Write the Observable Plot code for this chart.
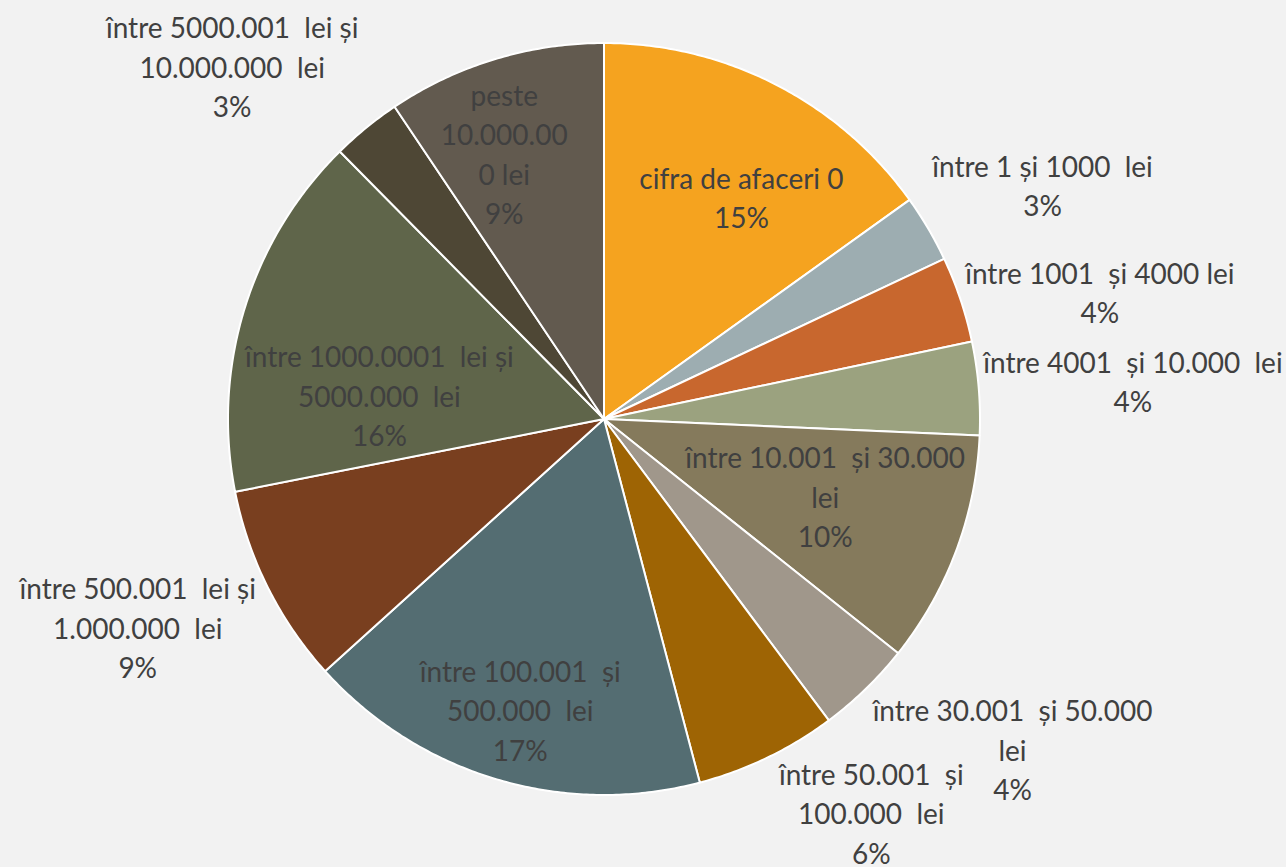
<!DOCTYPE html>
<html>
<head>
<meta charset="utf-8">
<script src="https://cdn.jsdelivr.net/npm/d3@7"></script>
<script src="https://cdn.jsdelivr.net/npm/@observablehq/plot@0.6"></script>
<style>
  html, body { margin: 0; padding: 0; background: #F2F2F2; }
  svg text { white-space: pre; }
</style>
</head>
<body>
<div id="chart"></div>
<script>
// ---- data ----
const categories = [
  "cifra de afaceri 0",
  "între 1 și 1000 lei",
  "între 1001 și 4000 lei",
  "între 4001 și 10.000 lei",
  "între 10.001 și 30.000 lei",
  "între 30.001 și 50.000 lei",
  "între 50.001 și 100.000 lei",
  "între 100.001 și 500.000 lei",
  "între 500.001 lei și 1.000.000 lei",
  "între 1000.0001 lei și 5000.000 lei",
  "între 5000.001 lei și 10.000.000 lei",
  "peste 10.000.000 lei"
];
const values = [15.1, 2.9, 3.7, 4.0, 10.0, 4.1, 6.1, 17.4, 8.6, 15.7, 3.0, 9.4];
// label text as wrapped in the original chart
const labelText = [
  "cifra de afaceri 0",
  "între 1 și 1000  lei",
  "între 1001  și 4000 lei",
  "între 4001  și 10.000  lei",
  "între 10.001  și 30.000\nlei",
  "între 30.001  și 50.000\nlei",
  "între 50.001  și\n100.000  lei",
  "între 100.001  și\n500.000  lei",
  "între 500.001  lei și\n1.000.000  lei",
  "între 1000.0001  lei și\n5000.000  lei",
  "între 5000.001  lei și\n10.000.000  lei",
  "peste\n10.000.00\n0 lei"
];
const colors = [
  "#F5A31F", "#9DADB1", "#C8672E", "#9BA27F", "#857A5C", "#A0978B",
  "#9E6404", "#546D72", "#793F1F", "#5F654A", "#4E4735", "#625A4F"
];

// ---- layout (label placement relative to slice mid-angle, in degrees / radius units) ----
const labelAngleShift = [4.8, 2.5, 4.4, 0.8, -0.8, -6.8, -8.3, -0.6, 2.4, -11.5, -7.4, -3.8];
const labelRadius = [0.69, 1.32, 1.36, 1.41, 0.625, 1.40, 1.27, 0.81, 1.36, 0.60, 1.36, 0.75];
const pieCenter = [603.5, 418.5];
const pieRadius = 376;

const total = d3.sum(values);
const arcs = d3.pie().sort(null).value(d => d)(values);

const slices = arcs.map((a, i) => {
  const n = Math.max(2, Math.ceil((a.endAngle - a.startAngle) / (Math.PI / 360)));
  const ring = [[0, 0]];
  for (let k = 0; k <= n; ++k) {
    const t = a.startAngle + (a.endAngle - a.startAngle) * k / n;
    ring.push([Math.sin(t), -Math.cos(t)]);
  }
  ring.push([0, 0]);
  return {type: "Feature", properties: {category: categories[i]}, geometry: {type: "Polygon", coordinates: [ring]}};
});

const labels = arcs.map((a, i) => {
  const mid = (a.startAngle + a.endAngle) / 2 + labelAngleShift[i] * Math.PI / 180;
  const r = labelRadius[i];
  return {
    x: r * Math.sin(mid),
    y: -r * Math.cos(mid),
    text: labelText[i] + "\n" + Math.round(values[i] / total * 100) + "%"
  };
});

const box = {type: "MultiPoint", coordinates: [[-1, -1], [1, 1]]};
const projection = d3.geoIdentity().fitExtent(
  [[pieCenter[0] - pieRadius, pieCenter[1] - pieRadius], [pieCenter[0] + pieRadius, pieCenter[1] + pieRadius]],
  box
);

const chart = Plot.plot({
  width: 1286,
  height: 867,
  margin: 0,
  projection,
  color: {domain: categories, range: colors},
  style: {background: "#F2F2F2", fontFamily: "Lato, sans-serif"},
  marks: [
    Plot.geo(slices, {fill: d => d.properties.category, stroke: "#FFFFFF", strokeWidth: 2, strokeLinejoin: "round"}),
    Plot.text(labels, {
      x: "x", y: "y", text: "text",
      fontSize: 28, lineHeight: 1.41, dy: -3,
      fill: "#404040", fontFamily: "Lato", textAnchor: "middle"
    })
  ]
});
document.getElementById("chart").append(chart);
</script>
</body>
</html>
